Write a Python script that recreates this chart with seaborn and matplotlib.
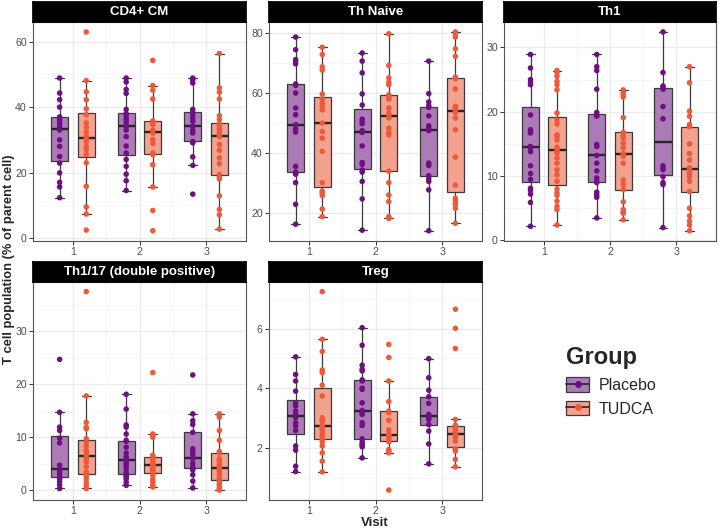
import pandas as pd
import seaborn as sns
import matplotlib.pyplot as plt
from matplotlib.patches import Patch
from matplotlib.lines import Line2D
from matplotlib.ticker import MultipleLocator

#%%
# values, one list per panel / group / visit
panels = ["CD4+ CM", "Th Naive", "Th1", "Th1/17 (double positive)", "Treg"]
groups = ["Placebo", "TUDCA"]
visits = ["1", "2", "3"]

cm_placebo = [
    [12.3, 15.6, 17.0, 19.9, 22.9, 24.9, 28.0, 30.0, 33.0, 33.9, 34.9, 35.7, 36.4, 37.0, 40.0, 42.3, 44.3, 48.9],
    [14.5, 17.5, 19.5, 21.9, 24.0, 26.0, 28.1, 31.0, 33.0, 34.0, 34.5, 35.5, 36.4, 37.4, 38.0, 39.3, 44.2, 45.4, 47.7, 48.9],
    [13.4, 22.2, 24.8, 29.1, 29.5, 32.1, 33.0, 34.2, 34.2, 35.7, 36.7, 37.7, 38.5, 39.3, 47.4, 48.3, 48.9],
]
cm_tudca = [
    [2.4, 7.3, 9.5, 15.8, 23.0, 25.5, 27.0, 28.0, 29.5, 30.3, 31.0, 32.3, 33.9, 35.2, 37.7, 39.5, 42.3, 44.7, 48.1, 63.0],
    [2.2, 8.4, 15.6, 22.4, 25.5, 26.0, 28.9, 30.1, 32.1, 33.0, 34.7, 35.2, 35.5, 35.8, 42.5, 45.2, 46.6, 54.3],
    [2.7, 7.1, 8.7, 12.9, 18.0, 18.6, 19.4, 22.7, 24.5, 26.8, 28.6, 31.0, 31.4, 32.0, 32.4, 33.4, 34.5, 35.0,
     36.2, 37.4, 42.5, 44.6, 45.9, 56.4],
]

naive_placebo = [
    [16.4, 23.0, 30.2, 33.0, 33.4, 33.7, 35.6, 47.0, 48.0, 49.2, 49.4, 52.8, 55.0, 60.0, 62.5, 63.0, 69.7, 70.6,
     71.1, 74.4, 78.6],
    [14.4, 24.8, 30.6, 33.7, 34.4, 36.3, 36.9, 42.4, 46.9, 47.5, 49.8, 50.6, 51.3, 56.0, 59.7, 66.7, 70.6, 73.3],
    [14.2, 27.8, 30.6, 31.5, 32.5, 35.9, 36.7, 47.5, 47.8, 48.3, 49.1, 52.4, 55.2, 55.8, 57.0, 59.8, 70.6],
]
naive_tudca = [
    [18.9, 21.4, 25.9, 26.7, 27.4, 30.2, 40.6, 45.0, 47.2, 50.0, 54.4, 55.6, 56.7, 58.0, 59.6, 67.6, 68.7, 72.8, 75.2],
    [18.3, 18.9, 23.9, 26.1, 30.2, 34.0, 46.1, 46.7, 48.3, 51.7, 52.2, 53.3, 55.0, 58.0, 58.9, 59.4, 62.8, 63.6,
     65.0, 69.2, 79.7],
    [16.7, 21.7, 23.0, 23.6, 24.4, 25.0, 29.4, 38.7, 47.8, 51.7, 53.6, 53.9, 54.7, 55.2, 55.6, 61.4, 64.7, 65.3,
     72.2, 74.7, 78.6, 79.7, 80.3],
]

th1_placebo = [
    [2.2, 5.9, 7.2, 7.8, 8.1, 9.5, 10.4, 11.6, 13.8, 14.4, 14.6, 16.7, 16.9, 17.2, 19.5, 24.2, 24.6, 25.0, 26.8, 28.9],
    [3.5, 6.7, 7.1, 7.5, 9.0, 9.2, 9.7, 10.8, 12.0, 13.2, 14.6, 14.9, 19.3, 19.5, 19.9, 23.5, 26.4, 27.0, 28.9],
    [2.0, 8.7, 9.0, 9.9, 11.0, 11.2, 11.6, 18.9, 20.8, 23.5, 23.8, 24.0, 26.1, 32.4],
]
th1_tudca = [
    [2.4, 4.8, 5.3, 6.1, 7.0, 7.4, 8.0, 9.2, 10.2, 11.0, 12.0, 12.8, 13.6, 14.0, 14.5, 15.6, 16.2, 16.4, 18.1,
     18.7, 19.8, 23.4, 24.2, 24.7, 25.5, 26.1, 26.4],
    [3.2, 4.2, 4.4, 4.8, 6.0, 7.9, 8.7, 9.4, 12.0, 13.1, 13.5, 14.4, 15.1, 15.9, 16.3, 16.8, 19.1, 22.3, 22.6,
     23.0, 23.4],
    [1.5, 2.4, 3.0, 3.8, 5.0, 7.6, 9.2, 9.9, 10.2, 10.6, 11.1, 11.3, 12.5, 13.5, 15.0, 17.7, 18.0, 19.3, 20.1,
     24.5, 27.0],
]

dp_placebo = [
    [0.3, 1.0, 1.6, 2.1, 2.5, 3.0, 3.4, 3.9, 3.9, 4.7, 8.9, 9.8, 11.25, 11.9, 14.7, 24.7],
    [0.9, 1.5, 2.1, 2.5, 2.8, 3.0, 3.4, 4.1, 4.7, 5.0, 5.6, 5.6, 6.25, 7.0, 8.1, 9.2, 9.4, 10.6, 11.9, 12.3,
     15.3, 18.1],
    [0.4, 1.7, 2.9, 3.8, 4.1, 4.4, 5.0, 5.9, 6.1, 6.6, 7.2, 7.8, 10.9, 12.4, 13.1, 14.4, 21.75],
]
dp_tudca = [
    [0.3, 0.9, 1.5, 2.2, 2.8, 3.0, 3.4, 4.4, 5.3, 5.9, 6.1, 6.6, 7.2, 7.5, 8.3, 9.1, 9.7, 11.6, 11.9, 12.8,
     17.8, 37.5],
    [0.6, 0.9, 1.5, 2.0, 2.8, 3.4, 3.75, 4.1, 4.4, 4.7, 4.9, 5.0, 5.6, 5.9, 6.25, 6.6, 10.0, 10.3, 10.6, 22.2],
    [0.0, 0.3, 0.5, 0.9, 1.2, 1.6, 1.9, 2.2, 2.8, 3.4, 3.75, 4.1, 4.4, 4.7, 5.0, 5.6, 5.9, 7.0, 7.3, 9.4,
     11.25, 13.75, 14.1, 14.4],
]

treg_placebo = [
    [1.20, 1.38, 1.92, 2.06, 2.58, 2.73, 2.84, 3.01, 3.12, 3.23, 3.40, 3.50, 3.90, 4.24, 4.46, 5.05],
    [1.66, 2.03, 2.10, 2.11, 2.20, 2.30, 2.75, 2.84, 3.12, 3.18, 3.25, 3.51, 3.96, 4.00, 4.24, 4.28, 4.58,
     4.63, 4.77, 5.44, 6.03],
    [1.46, 2.13, 2.56, 2.78, 2.95, 3.01, 3.06, 3.12, 3.49, 3.71, 3.93, 4.35, 4.99],
]
treg_tudca = [
    [1.19, 1.55, 1.83, 2.06, 2.20, 2.28, 2.39, 2.50, 2.60, 2.67, 2.69, 2.76, 2.90, 2.95, 3.01, 3.74, 4.10,
     4.52, 4.61, 5.23, 5.64, 7.24],
    [0.58, 1.83, 1.89, 1.94, 2.20, 2.28, 2.30, 2.40, 2.43, 2.45, 2.60, 2.92, 3.18, 3.23, 3.55, 4.24, 5.03, 5.47],
    [1.36, 1.61, 1.89, 1.94, 1.96, 2.22, 2.34, 2.39, 2.45, 2.50, 2.56, 2.62, 2.67, 2.76, 2.95, 5.33, 6.01, 6.65],
]

tick_step = [20, 20, 10, 10, 2]

#%%
# long table
series = {
    "CD4+ CM": (cm_placebo, cm_tudca),
    "Th Naive": (naive_placebo, naive_tudca),
    "Th1": (th1_placebo, th1_tudca),
    "Th1/17 (double positive)": (dp_placebo, dp_tudca),
    "Treg": (treg_placebo, treg_tudca),
}
rows = []
for panel, (plac, tud) in series.items():
    for grp, per_visit in zip(groups, (plac, tud)):
        for visit, vals in zip(visits, per_visit):
            for v in vals:
                rows.append({"Panel": panel, "Group": grp, "Visit": visit, "value": v})
df = pd.DataFrame(rows)

#%%
sns.set_theme(style="white")
plt.rcParams["font.family"] = ["Liberation Sans", "DejaVu Sans"]

fill_pal = {"Placebo": "#AC7BB7", "TUDCA": "#F3A290"}
point_pal = {"Placebo": "#6C117F", "TUDCA": "#EC5A3B"}

fig = plt.figure(figsize=(7.2, 5.3), dpi=100)
W, H = 720, 530
# panel boxes in pixels: (left, top, right, bottom)
boxes = [(33, 22, 246, 240.7), (269, 22, 482, 240.7), (504, 22, 716, 240.7),
         (33, 281.7, 246, 500), (269, 281.7, 482, 500)]

for i, panel in enumerate(panels):
    l, t, r, b = boxes[i]
    ax = fig.add_axes([l / W, 1 - b / H, (r - l) / W, (b - t) / H])
    sub = df[df["Panel"] == panel]
    sns.boxplot(data=sub, x="Visit", y="value", hue="Group", order=visits, hue_order=groups,
                palette=fill_pal, saturation=1, width=0.8, gap=0.35, showfliers=False,
                linecolor="#3a3a3a", linewidth=0.9, legend=False, ax=ax,
                medianprops={"linewidth": 1.7, "color": "#262626"})
    sns.stripplot(data=sub, x="Visit", y="value", hue="Group", order=visits, hue_order=groups,
                  palette=point_pal, dodge=True, jitter=False, size=4.0, linewidth=0,
                  legend=False, ax=ax, zorder=4)
    ax.set_xlim(-0.6, 2.6)
    ax.margins(y=0.05)
    ax.yaxis.set_major_locator(MultipleLocator(tick_step[i]))
    ax.yaxis.set_minor_locator(MultipleLocator(tick_step[i] / 2))
    ax.set_xticks([0, 1, 2], minor=False)
    ax.set_xticks([0.5, 1.5], minor=True)
    ax.grid(which="major", color="#EBEBEB", linewidth=0.9)
    ax.grid(which="minor", color="#F3F3F3", linewidth=0.5)
    ax.set_axisbelow(True)
    for s in ax.spines.values():
        s.set_color("#555555")
        s.set_linewidth(0.8)
    ax.tick_params(axis="both", which="major", length=3, width=0.7, color="#333333",
                   labelsize=7.6, labelcolor="#4D4D4D", pad=1.5, direction="out",
                   bottom=True, left=True)
    ax.tick_params(which="minor", length=0)
    ax.set_xlabel("")
    ax.set_ylabel("")

    # strip header
    sax = fig.add_axes([l / W, 1 - t / H, (r - l) / W, 20 / H])
    sax.set_facecolor("black")
    sax.set_xticks([])
    sax.set_yticks([])
    for s in sax.spines.values():
        s.set_color("black")
    sax.text(0.5, 0.48, panel, color="white", fontsize=9.5, fontweight="bold",
             ha="center", va="center", transform=sax.transAxes)

fig.text(374.5 / W, 1 - 523 / H, "Visit", fontsize=9.5, fontweight="bold",
         ha="center", va="center")
fig.text(9 / W, 1 - 259 / H, "T cell population (% of parent cell)", fontsize=9.3,
         fontweight="bold", rotation=90, ha="center", va="center")

handles = [(Patch(facecolor=fill_pal[g], edgecolor="#3a3a3a", linewidth=0.9),
            Line2D([], [], color="#262626", linewidth=1.2, marker="o",
                   markerfacecolor=point_pal[g], markeredgewidth=0, markersize=5))
           for g in groups]
leg = fig.legend(handles, groups, title="Group", loc="upper left",
                 bbox_to_anchor=(552 / W, 1 - 332 / H), frameon=False,
                 fontsize=11.5, title_fontproperties={"weight": "bold", "size": 17},
                 handlelength=1.4, handleheight=1.0, handletextpad=0.6, labelspacing=0.5)
leg._legend_box.align = "left"

plt.savefig("out.png", dpi=100)
